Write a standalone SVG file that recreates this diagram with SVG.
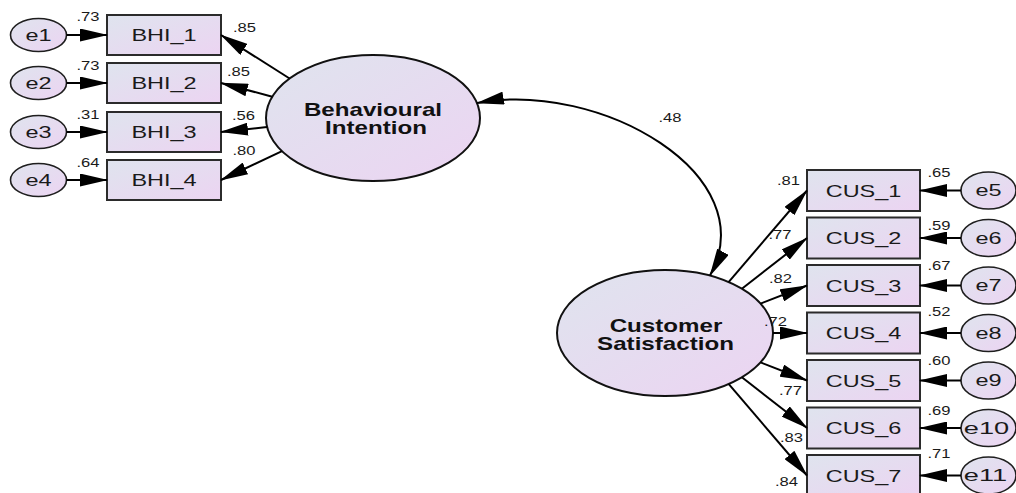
<svg xmlns="http://www.w3.org/2000/svg" width="1016" height="493" viewBox="0 0 1016 493">
  <defs>
    <linearGradient id="fill" x1="0" y1="0" x2="1" y2="1">
      <stop offset="0" stop-color="#dfe4ee"/>
      <stop offset="1" stop-color="#ecd4f2"/>
    </linearGradient>
    <marker id="head" markerUnits="userSpaceOnUse" markerWidth="28" markerHeight="13" refX="27" refY="6.5" orient="auto-start-reverse">
      <path d="M0,0 L28,6.5 L0,13 z" fill="#000"/>
    </marker>
    <style>
      .box { fill: url(#fill); stroke: #2b2b2b; stroke-width: 2; }
      .err { fill: url(#fill); stroke: #1e1e1e; stroke-width: 1.6; }
      .lat { fill: url(#fill); stroke: #111; stroke-width: 2; }
      .path { stroke: #000; stroke-width: 2; fill: none; marker-end: url(#head); }
      text { font-family: "Liberation Sans", Arial, sans-serif; fill: #1a1a1a; text-anchor: middle;
             transform-box: fill-box; transform-origin: center; transform: scaleX(1.38); }
      .nm { font-size: 17px; }
      .wide { transform: scaleX(1.6); }
      .lv { font-size: 17.5px; font-weight: bold; fill: #111; }
      .est { font-size: 12px; }
    </style>
  </defs>
  <rect width="1016" height="493" fill="#fff"/>

  <!-- latent: Behavioural Intention -->
  <g id="BI">
    <ellipse class="lat" cx="373" cy="118" rx="107" ry="63"/>
    <text class="lv" x="373" y="116">Behavioural</text>
    <text class="lv" x="376" y="134.3">Intention</text>
  </g>

  <!-- latent: Customer Satisfaction -->
  <g id="CS">
    <ellipse class="lat" cx="665" cy="333" rx="108" ry="63"/>
    <text class="lv" x="666" y="332">Customer</text>
    <text class="lv" x="665.5" y="350">Satisfaction</text>
  </g>

  <!-- BHI indicators -->
  <g id="BHI_1"><rect class="box" x="107" y="15" width="114" height="40"/><text class="nm" x="164" y="41.5">BHI_1</text></g>
  <g id="BHI_2"><rect class="box" x="107" y="63" width="114" height="40"/><text class="nm" x="164" y="89.5">BHI_2</text></g>
  <g id="BHI_3"><rect class="box" x="107" y="112" width="114" height="40"/><text class="nm" x="164" y="138.5">BHI_3</text></g>
  <g id="BHI_4"><rect class="box" x="107" y="160" width="114" height="40"/><text class="nm" x="164" y="186.5">BHI_4</text></g>

  <!-- BHI error terms -->
  <g id="e1"><ellipse class="err" cx="38.5" cy="35" rx="28" ry="16.5"/><text class="nm" x="38.5" y="41">e1</text></g>
  <g id="e2"><ellipse class="err" cx="38.5" cy="83" rx="28" ry="16.5"/><text class="nm" x="38.5" y="89">e2</text></g>
  <g id="e3"><ellipse class="err" cx="38.5" cy="132" rx="28" ry="16.5"/><text class="nm" x="38.5" y="138">e3</text></g>
  <g id="e4"><ellipse class="err" cx="38.5" cy="180" rx="28" ry="16.5"/><text class="nm" x="38.5" y="186">e4</text></g>

  <!-- CUS indicators -->
  <g id="CUS_1"><rect class="box" x="807" y="170" width="113" height="41"/><text class="nm" x="863.5" y="196.7">CUS_1</text></g>
  <g id="CUS_2"><rect class="box" x="807" y="217.5" width="113" height="41"/><text class="nm" x="863.5" y="244.2">CUS_2</text></g>
  <g id="CUS_3"><rect class="box" x="807" y="265" width="113" height="41"/><text class="nm" x="863.5" y="291.7">CUS_3</text></g>
  <g id="CUS_4"><rect class="box" x="807" y="312.5" width="113" height="41"/><text class="nm" x="863.5" y="339.2">CUS_4</text></g>
  <g id="CUS_5"><rect class="box" x="807" y="360" width="113" height="41"/><text class="nm" x="863.5" y="386.7">CUS_5</text></g>
  <g id="CUS_6"><rect class="box" x="807" y="407.5" width="113" height="41"/><text class="nm" x="863.5" y="434.2">CUS_6</text></g>
  <g id="CUS_7"><rect class="box" x="807" y="455" width="113" height="41"/><text class="nm" x="863.5" y="481.7">CUS_7</text></g>

  <!-- CUS error terms -->
  <g id="e5"><ellipse class="err" cx="988.5" cy="190.5" rx="27.5" ry="18.5"/><text class="nm" x="988.5" y="196.5">e5</text></g>
  <g id="e6"><ellipse class="err" cx="988.5" cy="238" rx="27.5" ry="18.5"/><text class="nm" x="988.5" y="244">e6</text></g>
  <g id="e7"><ellipse class="err" cx="988.5" cy="285.5" rx="27.5" ry="18.5"/><text class="nm" x="988.5" y="291.5">e7</text></g>
  <g id="e8"><ellipse class="err" cx="988.5" cy="333" rx="27.5" ry="18.5"/><text class="nm" x="988.5" y="339">e8</text></g>
  <g id="e9"><ellipse class="err" cx="988.5" cy="380.5" rx="27.5" ry="18.5"/><text class="nm" x="988.5" y="386.5">e9</text></g>
  <g id="e10"><ellipse class="err" cx="988.5" cy="428" rx="27.5" ry="18.5"/><text class="nm wide" x="986.5" y="434">e10</text></g>
  <g id="e11"><ellipse class="err" cx="988.5" cy="475.5" rx="27.5" ry="18.5"/><text class="nm wide" x="985.5" y="481.5">e11</text></g>

  <!-- paths, error paths and the covariance -->
  <g id="connectors">
    <line class="path" x1="289.6" y1="78.5" x2="221" y2="35"/>
    <line class="path" x1="272.3" y1="96.7" x2="221" y2="83"/>
    <line class="path" x1="267.1" y1="127.1" x2="221" y2="132"/>
    <line class="path" x1="282" y1="151.1" x2="221" y2="180"/>

    <line class="path" x1="66.5" y1="35" x2="107" y2="35"/>
    <line class="path" x1="66.5" y1="83" x2="107" y2="83"/>
    <line class="path" x1="66.5" y1="132" x2="107" y2="132"/>
    <line class="path" x1="66.5" y1="180" x2="107" y2="180"/>

    <line class="path" x1="728.6" y1="282.1" x2="807" y2="190.5"/>
    <line class="path" x1="741.9" y1="288.7" x2="807" y2="238"/>
    <line class="path" x1="760.5" y1="303.6" x2="807" y2="285.5"/>
    <line class="path" x1="773" y1="333" x2="807" y2="333"/>
    <line class="path" x1="760.5" y1="362.4" x2="807" y2="380.5"/>
    <line class="path" x1="741.9" y1="377.3" x2="807" y2="428"/>
    <line class="path" x1="728.6" y1="383.9" x2="807" y2="475.5"/>

    <line class="path" x1="961" y1="190.5" x2="920" y2="190.5"/>
    <line class="path" x1="961" y1="238" x2="920" y2="238"/>
    <line class="path" x1="961" y1="285.5" x2="920" y2="285.5"/>
    <line class="path" x1="961" y1="333" x2="920" y2="333"/>
    <line class="path" x1="961" y1="380.5" x2="920" y2="380.5"/>
    <line class="path" x1="961" y1="428" x2="920" y2="428"/>
    <line class="path" x1="961" y1="475.5" x2="920" y2="475.5"/>

    <path class="path" d="M477,103 C600,80 765,175 710,275.5" marker-start="url(#head)"/>
  </g>

  <!-- estimates -->
  <g id="estimates">
    <text class="est" x="88" y="21.5">.73</text>
    <text class="est" x="88" y="70">.73</text>
    <text class="est" x="88" y="119.5">.31</text>
    <text class="est" x="88" y="167.5">.64</text>

    <text class="est" x="244.5" y="32">.85</text>
    <text class="est" x="238.5" y="76">.85</text>
    <text class="est" x="243.5" y="120">.56</text>
    <text class="est" x="244" y="155">.80</text>

    <text class="est" x="670" y="122">.48</text>

    <text class="est" x="788.5" y="185">.81</text>
    <text class="est" x="780" y="239">.77</text>
    <text class="est" x="780.5" y="283">.82</text>
    <text class="est" x="775.5" y="326">.72</text>
    <text class="est" x="790.5" y="395.5">.77</text>
    <text class="est" x="791.5" y="441.7">.83</text>
    <text class="est" x="786.5" y="486.5">.84</text>

    <text class="est" x="939" y="177">.65</text>
    <text class="est" x="939" y="230">.59</text>
    <text class="est" x="939" y="270">.67</text>
    <text class="est" x="939" y="316.5">.52</text>
    <text class="est" x="939" y="365.5">.60</text>
    <text class="est" x="939" y="415">.69</text>
    <text class="est" x="939" y="458">.71</text>
  </g>
</svg>
